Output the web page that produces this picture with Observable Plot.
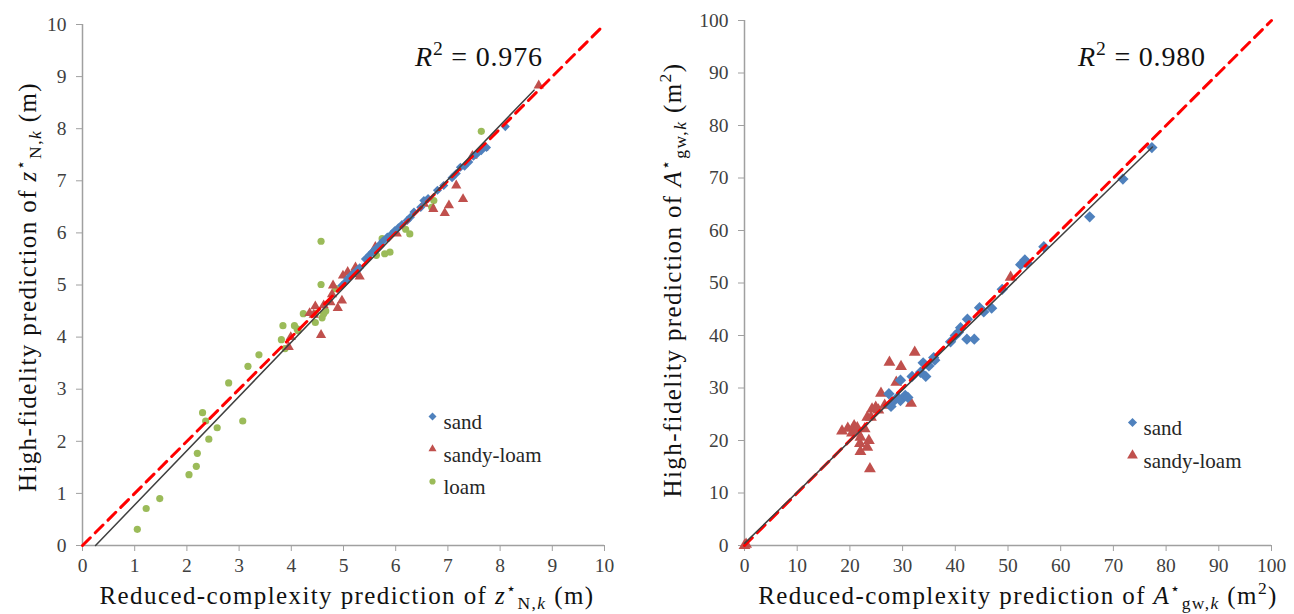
<!DOCTYPE html>
<html>
<head>
<meta charset="utf-8">
<script src="https://cdn.jsdelivr.net/npm/d3@7"></script>
<script src="https://cdn.jsdelivr.net/npm/@observablehq/plot@0.6"></script>
<style>
  html, body { margin: 0; padding: 0; background: #fff; }
  #wrap { display: flex; width: 1294px; height: 614px; overflow: hidden; }
  svg { display: block; }
</style>
</head>
<body>
<div id="wrap"></div>
<script>
// ---------- data ----------
const categories = ["sand", "sandy-loam", "loam"];
const colors = ["#4f81bd", "#c0504d", "#9bbb59"];

const leftTicks = [0, 1, 2, 3, 4, 5, 6, 7, 8, 9, 10];
const rightTicks = [0, 10, 20, 30, 40, 50, 60, 70, 80, 90, 100];

const leftR2 = "0.976";
const rightR2 = "0.980";

// left panel: water-table depth z*N,k (m)  [reduced, high-fidelity]
const leftSand = [
  [4.97,4.99],[5.03,5.05],[5.08,5.12],[5.13,5.17],[5.19,5.22],[5.26,5.28],[5.31,5.33],
  [5.42,5.50],[5.50,5.58],[5.56,5.64],[5.62,5.70],[5.70,5.78],[5.76,5.85],[5.84,5.92],
  [5.92,5.98],[5.98,6.04],[6.05,6.10],[6.12,6.16],[6.22,6.24],[6.28,6.30],[6.35,6.40],
  [6.48,6.49],[6.54,6.62],[6.62,6.66],[6.80,6.82],[6.92,6.91],[7.08,7.06],[7.16,7.14],
  [7.24,7.26],[7.32,7.28],[7.40,7.36],[7.49,7.47],[7.56,7.52],[7.64,7.58],[7.74,7.64],
  [8.10,8.04]
];
const leftSandyLoam = [
  [3.95,3.81],[3.99,4.00],[4.57,4.04],[4.35,4.46],[4.43,4.43],[4.46,4.59],[4.62,4.61],
  [4.75,4.67],[4.78,4.82],[4.89,4.56],[4.97,4.70],[4.80,4.99],[4.99,5.18],[5.08,5.25],
  [5.17,5.21],[5.23,5.34],[5.31,5.16],[5.61,5.73],[6.02,5.99],[6.54,6.56],[6.72,6.46],
  [6.94,6.38],[7.02,6.53],[7.16,6.91],[7.29,6.65],[7.47,7.48],[7.68,7.63],[8.74,8.83]
];
const leftLoam = [
  [1.05,0.31],[1.22,0.71],[1.48,0.90],[2.04,1.36],[2.18,1.52],[2.20,1.77],[2.30,2.55],
  [2.36,2.39],[2.42,2.04],[2.58,2.26],[2.80,3.12],[3.07,2.39],[3.17,3.44],[3.38,3.66],
  [3.81,3.95],[3.84,4.22],[3.88,3.78],[4.06,4.22],[4.11,4.16],[4.13,4.12],[4.23,4.45],
  [4.46,4.45],[4.46,4.28],[4.59,4.37],[4.62,4.45],[4.66,4.50],[4.85,4.93],[4.57,5.01],
  [4.57,5.84],[5.63,5.57],[5.79,5.60],[5.89,5.63],[5.74,5.89],[6.19,6.07],[6.27,5.98],
  [6.69,6.49],[6.73,6.62],[7.64,7.95]
];
const leftIdentity = [0, 10];
const leftFit = [[0.25, 0], [8.65, 8.74]];

// right panel: groundwater area A*gw,k (m^2)
const rightSand = [
  [27.4,28.9],[27.8,26.5],[28.0,27.2],[29.0,28.2],[29.6,27.6],[29.6,31.5],[30.5,28.6],
  [31.0,28.2],[31.8,32.2],[33.4,33.0],[33.9,34.8],[34.4,32.2],[35.0,34.2],[35.9,35.8],
  [36.1,35.3],[39.1,38.8],[40.0,40.0],[40.6,40.6],[41.0,41.5],[42.2,39.3],[43.6,39.3],
  [42.3,43.1],[44.6,45.3],[45.4,44.5],[46.9,45.2],[48.9,48.8],[52.4,53.5],[53.2,54.4],
  [53.6,53.8],[56.8,56.9],[65.5,62.6],[71.8,69.8],[77.3,75.8]
];
const rightSandyLoam = [
  [0,0],[0.3,0.2],[18.5,21.8],[19.6,22.3],[20.4,21.4],[20.8,22.8],[21.4,22.4],[21.4,21.6],
  [21.9,19.4],[22.0,17.9],[22.0,20.6],[22.8,22.2],[23.3,18.7],[23.3,24.4],[23.6,20.0],
  [23.8,14.6],[24.0,24.4],[24.2,26.0],[24.9,26.3],[25.4,25.8],[25.9,29.0],[26.6,26.7],
  [27.5,34.9],[28.8,31.1],[29.7,34.1],[31.6,27.1],[32.3,36.8],[50.5,51.1]
];
const rightIdentity = [0, 100];
const rightFit = [[0, 0.4], [77.4, 75.9]];

// ---------- styling ----------
const serif = "'Liberation Serif', 'DejaVu Serif', serif";
const axisGray = "#a0a0a0";
const tickText = "#404040";
const inkDark = "#111";

function axes(ticks) {
  return [
    Plot.ruleY([0], {stroke: axisGray, strokeWidth: 1.5}),
    Plot.ruleX([0], {stroke: axisGray, strokeWidth: 1.5}),
    Plot.axisX({ticks, tickSize: 6, tickPadding: 7, stroke: axisGray, fill: tickText, label: null, fontSize: 19.5}),
    Plot.axisY({ticks, tickSize: 6, tickPadding: 10, stroke: axisGray, fill: tickText, label: null, fontSize: 19.5})
  ];
}

function pts(data, symbol, fill, r) {
  return Plot.dot(data, {x: d => d[0], y: d => d[1], symbol, fill, r, stroke: "none"});
}

function legend(cats, symbols, rs, dx, dy, step) {
  return cats.flatMap((c, i) => [
    Plot.dot([c], {frameAnchor: "top-left", dx, dy: dy + i * step, symbol: symbols[i], fill: colors[i], r: rs[i], stroke: "none"}),
    Plot.text([c], {text: d => d, frameAnchor: "top-left", dx: dx + 11, dy: dy + i * step - 2, textAnchor: "start", fontSize: 21, fill: "#262626", fontFamily: serif})
  ]);
}

// rich text (sub/superscripts) drawn as real SVG text
function rich(svg, {x, y, anchor = "start", rotate = false, size, spacing = 0, parts}) {
  const t = d3.select(svg).append("text")
    .attr("font-family", serif).attr("font-size", size)
    .attr("letter-spacing", spacing)
    .attr("fill", inkDark).attr("text-anchor", anchor);
  if (rotate) t.attr("transform", `translate(${x},${y}) rotate(-90)`);
  else t.attr("x", x).attr("y", y);
  let cur = 0;
  for (const p of parts) {
    const ts = t.append("tspan").text(p.t);
    if (p.italic) ts.attr("font-style", "italic");
    if (p.scale) ts.attr("font-size", size * p.scale);
    const shift = (p.shift || 0) * size;
    ts.attr("dy", shift - cur);
    cur = shift;
    if (p.dx) ts.attr("dx", p.dx * size);
  }
  return t;
}

function zLabel(prefix) {
  return [
    {t: prefix},
    {t: "z", italic: true},
    {t: "\u22C6", scale: 0.65, shift: -0.42},
    {t: "N,", scale: 0.7, shift: 0.2},
    {t: "k", italic: true, scale: 0.7, shift: 0.2},
    {t: " (m)", shift: 0}
  ];
}
function aLabel(prefix) {
  return [
    {t: prefix},
    {t: "A", italic: true},
    {t: "\u22C6", scale: 0.65, shift: -0.42},
    {t: "gw,", scale: 0.7, shift: 0.2},
    {t: "k", italic: true, scale: 0.7, shift: 0.2},
    {t: " (m", shift: 0},
    {t: "2", scale: 0.7, shift: -0.4},
    {t: ")", shift: 0}
  ];
}

// ---------- left panel ----------
const left = Plot.plot({
  width: 640, height: 614,
  marginLeft: 82, marginRight: 36, marginTop: 24, marginBottom: 69,
  style: {fontFamily: serif, fontSize: "19px", color: tickText, background: "#fff", overflow: "visible"},
  x: {domain: [0, 10]},
  y: {domain: [0, 10]},
  marks: [
    ...axes(leftTicks),
    pts(leftLoam, "circle", colors[2], 3.6),
    pts(leftSandyLoam, "triangle", colors[1], 3.8),
    pts(leftSand, "diamond2", colors[0], 4.1),
    Plot.line(leftIdentity, {x: d => d, y: d => d, stroke: "#ff0000", strokeWidth: 3, strokeDasharray: "11,7"}),
    Plot.line(leftFit, {x: d => d[0], y: d => d[1], stroke: "#404040", strokeWidth: 1.5}),
    ...legend(categories, ["diamond2", "triangle", "circle"], [3.6, 3, 3.1], 350, 392, 32.5)
  ]
});

// ---------- right panel ----------
const right = Plot.plot({
  width: 654, height: 614,
  marginLeft: 104, marginRight: 23, marginTop: 20, marginBottom: 69,
  style: {fontFamily: serif, fontSize: "19px", color: tickText, background: "#fff", overflow: "visible"},
  x: {domain: [0, 100]},
  y: {domain: [0, 100]},
  marks: [
    ...axes(rightTicks),
    pts(rightSandyLoam, "triangle", colors[1], 4.4),
    pts(rightSand, "diamond2", colors[0], 5.1),
    Plot.line(rightIdentity, {x: d => d, y: d => d, stroke: "#ff0000", strokeWidth: 3, strokeDasharray: "11,7"}),
    Plot.line(rightFit, {x: d => d[0], y: d => d[1], stroke: "#404040", strokeWidth: 1.5}),
    ...legend(categories.slice(0, 2), ["diamond2", "triangle"], [4.1, 4], 388, 402, 33)
  ]
});

// ---------- titles & annotations ----------
const LS = 25;
const SP = 1.4;
rich(left, {x: 347, y: 604, anchor: "middle", size: LS, spacing: SP, parts: zLabel("Reduced-complexity prediction of ")});
rich(left, {x: 36, y: 287, anchor: "middle", rotate: true, size: LS, spacing: SP, parts: zLabel("High-fidelity prediction of ")});
rich(left, {x: left.scale("x").apply(6.38), y: 66, anchor: "start", size: 28, spacing: 0.8, parts: [
  {t: "R", italic: true}, {t: "2", scale: 0.7, shift: -0.4}, {t: " = " + leftR2, shift: 0}
]});

rich(right, {x: 378, y: 604, anchor: "middle", size: LS, spacing: SP, parts: aLabel("Reduced-complexity prediction of ")});
rich(right, {x: 41, y: 280, anchor: "middle", rotate: true, size: LS, spacing: SP, parts: aLabel("High-fidelity prediction of ")});
rich(right, {x: right.scale("x").apply(63.4), y: 66, anchor: "start", size: 28, spacing: 0.8, parts: [
  {t: "R", italic: true}, {t: "2", scale: 0.7, shift: -0.4}, {t: " = " + rightR2, shift: 0}
]});

document.getElementById("wrap").append(left, right);
</script>
</body>
</html>
